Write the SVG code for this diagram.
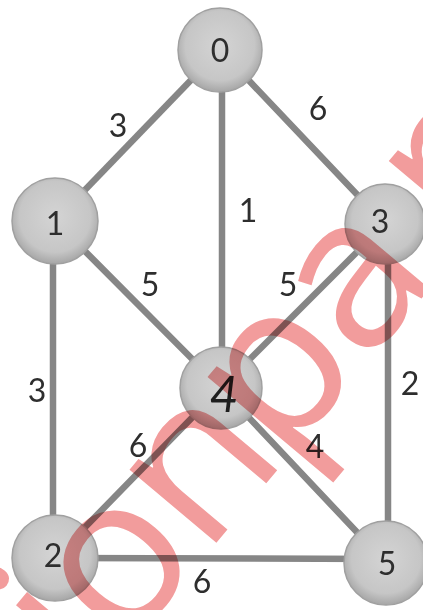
<svg xmlns="http://www.w3.org/2000/svg" width="423" height="610" viewBox="0 0 423 610">
<style>
.edge{stroke:#868686;stroke-width:6.5;stroke-linecap:round}
.node{fill:url(#g);stroke:#a0a0a0;stroke-width:1.5}
.lbl{font-family:Lato,"Open Sans",sans-serif;font-size:32px;fill:#2e2e2e;text-anchor:middle}
.wm{font-family:"Open Sans",sans-serif;font-size:212px;font-weight:400;fill:#f29c9c;mix-blend-mode:multiply;text-anchor:middle}
</style>
<defs>
<radialGradient id="g" cx="0.5" cy="0.45" r="0.55">
<stop offset="0" stop-color="#d4d4d4"/>
<stop offset="0.75" stop-color="#c6c6c6"/>
<stop offset="1" stop-color="#a6a6a6"/>
</radialGradient>
</defs>
<rect width="423" height="610" fill="#fff"/>
<g id="edges">
<line class="edge" x1="220" y1="50" x2="55" y2="221"/>
<line class="edge" x1="220" y1="50" x2="385" y2="224"/>
<line class="edge" x1="222" y1="50" x2="222" y2="388"/>
<line class="edge" x1="55" y1="221" x2="221" y2="388"/>
<line class="edge" x1="385" y1="224" x2="221" y2="388"/>
<line class="edge" x1="53" y1="221" x2="53" y2="558"/>
<line class="edge" x1="388" y1="224" x2="388" y2="563"/>
<line class="edge" x1="221" y1="388" x2="55" y2="558"/>
<line class="edge" x1="221" y1="388" x2="386" y2="563"/>
<line class="edge" x1="55" y1="558" x2="386" y2="559"/>
</g>
<g id="edge-labels">
<text class="lbl" x="118" y="137">3</text>
<text class="lbl" x="318" y="120">6</text>
<text class="lbl" x="248" y="222">1</text>
<text class="lbl" x="150" y="296">5</text>
<text class="lbl" x="288" y="296">5</text>
<text class="lbl" x="37" y="402">3</text>
<text class="lbl" x="410" y="395">2</text>
<text class="lbl" x="138" y="457">6</text>
<text class="lbl" x="315" y="458">4</text>
<text class="lbl" x="202" y="593">6</text>
</g>
<g id="node0"><circle class="node" cx="220" cy="50" r="42"/><text class="lbl" x="220" y="62">0</text></g>
<g id="node1"><circle class="node" cx="55" cy="221" r="43"/><text class="lbl" x="55" y="235">1</text></g>
<g id="node3"><circle class="node" cx="385" cy="224" r="40"/><text class="lbl" x="380" y="233">3</text></g>
<g id="node4"><circle class="node" cx="221" cy="388" r="41"/><text class="lbl" x="224" y="412" style="font-size:50px;font-style:italic;fill:#1e1e1e">4</text></g>
<g id="node2"><circle class="node" cx="55" cy="558" r="43"/><text class="lbl" x="53" y="567">2</text></g>
<g id="node5"><circle class="node" cx="386" cy="563" r="42"/><text class="lbl" x="387" y="575">5</text></g>
<text class="wm" transform="translate(165 604) rotate(-50)"><tspan x="-88" y="0">i</tspan><tspan x="0" y="0">o</tspan><tspan x="127" y="0">n</tspan><tspan x="248" y="0">p</tspan><tspan x="370" y="0">a</tspan><tspan x="530" y="0">p</tspan></text>
</svg>
